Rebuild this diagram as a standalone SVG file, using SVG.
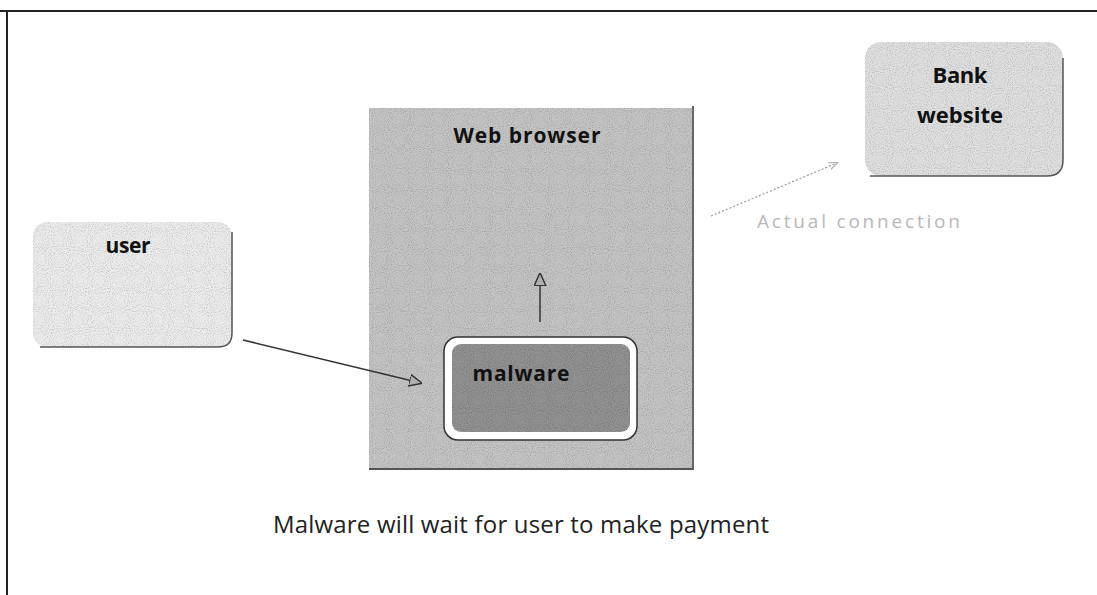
<svg xmlns="http://www.w3.org/2000/svg" width="1097" height="595" viewBox="0 0 1097 595">
<style>
.lbl{font-family:"Open Sans","Noto Sans",sans-serif;font-weight:bold;fill:#111}
.cap{font-family:"Open Sans","Noto Sans",sans-serif;fill:#222}
.conn{fill:none;stroke:#333;stroke-width:1.5}
</style>
<defs>
<marker id="tri" viewBox="0 0 10 10" refX="9" refY="5" markerWidth="13" markerHeight="13" orient="auto" markerUnits="userSpaceOnUse">
<path d="M0,0.5 L10,5 L0,9.5 Z" fill="#b0b0b0" stroke="#333" stroke-width="1.1"/>
</marker>
<marker id="tri2" viewBox="0 0 10 10" refX="9" refY="5" markerWidth="9" markerHeight="9" orient="auto" markerUnits="userSpaceOnUse">
<path d="M0,1 L10,5 L0,9" fill="none" stroke="#aaa" stroke-width="1.2"/>
</marker>
<filter id="grain" x="0" y="0" width="100%" height="100%">
<feTurbulence type="fractalNoise" baseFrequency="0.95" numOctaves="1" seed="3" result="n"/>
<feColorMatrix in="n" type="matrix" values="0 0 0 0 0  0 0 0 0 0  0 0 0 0 0  0 0 0 -1 0.55" result="a"/>
<feComposite in="a" in2="SourceGraphic" operator="in" result="b"/>
<feMerge><feMergeNode in="SourceGraphic"/><feMergeNode in="b"/></feMerge>
</filter>
</defs>
<rect width="1097" height="595" fill="#fff"/>
<g id="frame">
<line x1="0" y1="11" x2="1097" y2="11" stroke="#222" stroke-width="2"/>
<line x1="7" y1="11" x2="7" y2="595" stroke="#222" stroke-width="2"/>
</g>
<g id="browser">
<rect x="369" y="108" width="323" height="360" fill="#c4c4c4" filter="url(#grain)"/>
<line x1="693" y1="106" x2="693" y2="470" stroke="#333" stroke-width="1.5"/>
<line x1="369" y1="469" x2="693" y2="469" stroke="#555" stroke-width="2"/>
<text class="lbl" x="527" y="143" font-size="21" text-anchor="middle" textLength="147">Web browser</text>
</g>
<g id="malware">
<rect x="444" y="337" width="193" height="103" rx="14" fill="#fff" stroke="#333" stroke-width="1.5"/>
<rect x="452" y="344" width="178" height="88" rx="9" fill="#929292" filter="url(#grain)"/>
<text class="lbl" x="521" y="381" font-size="21" text-anchor="middle" textLength="97">malware</text>
</g>
<g id="user">
<rect x="33" y="222" width="199" height="125" rx="14" fill="#ececec" filter="url(#grain)"/>
<path d="M232,232 V333 Q232,347 218,347 H40" fill="none" stroke="#555" stroke-width="1.5"/>
<text class="lbl" x="128" y="253" font-size="21" text-anchor="middle" textLength="45">user</text>
</g>
<g id="bank">
<rect x="865" y="42" width="198" height="134" rx="16" fill="#e0e0e0" filter="url(#grain)"/>
<path d="M1063,58 V160 Q1063,176 1047,176 H870" fill="none" stroke="#555" stroke-width="1.5"/>
<text class="lbl" x="960" y="83" font-size="22" text-anchor="middle" textLength="55">Bank</text>
<text class="lbl" x="960" y="123" font-size="22" text-anchor="middle" textLength="86">website</text>
</g>
<g id="connectors">
<line class="conn" x1="243" y1="340" x2="421" y2="383" marker-end="url(#tri)"/>
<line class="conn" x1="540" y1="322" x2="540" y2="274" marker-end="url(#tri)"/>
<line x1="711" y1="216" x2="837" y2="163" stroke="#999" stroke-width="1.2" stroke-dasharray="2 2" marker-end="url(#tri2)"/>
<text x="757" y="228" font-family="Open Sans, Noto Sans, sans-serif" font-size="19" fill="#b8b8b8" textLength="203">Actual connection</text>
</g>
<text class="cap" x="273" y="533" font-size="24" textLength="496">Malware will wait for user to make payment</text>
</svg>
